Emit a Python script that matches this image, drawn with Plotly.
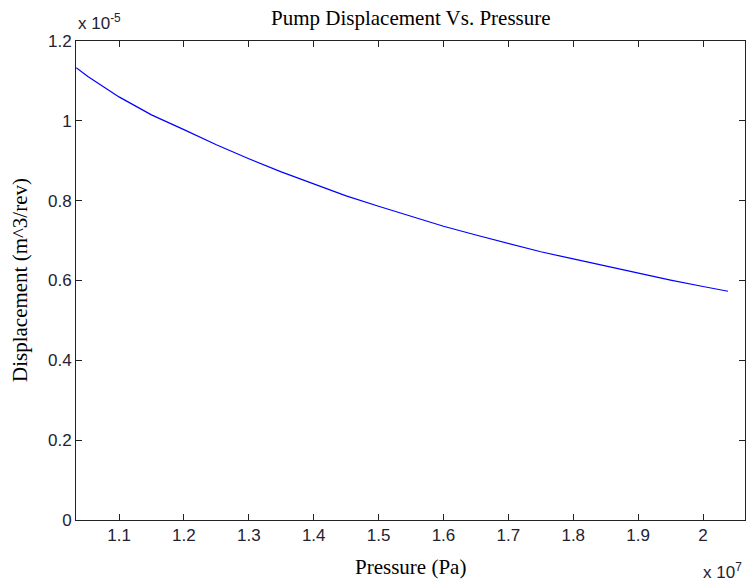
import plotly.graph_objects as go

# Data (Pressure in Pa, displacement in m^3/rev)
pressure_e7 = [1.034, 1.052, 1.1, 1.15, 1.2, 1.25, 1.3, 1.35, 1.4, 1.45, 1.5, 1.55,
               1.6, 1.65, 1.7, 1.75, 1.8, 1.85, 1.9, 1.95, 2.0, 2.0385]
displacement_e5 = [1.133, 1.111, 1.060, 1.015, 0.978, 0.940, 0.905, 0.872, 0.842, 0.812,
                   0.786, 0.760, 0.736, 0.714, 0.693, 0.672, 0.654, 0.636, 0.619, 0.601,
                   0.585, 0.573]
pressure = [p * 1e7 for p in pressure_e7]
displacement = [d * 1e-5 for d in displacement_e5]

x_tick_vals = [1.1e7, 1.2e7, 1.3e7, 1.4e7, 1.5e7, 1.6e7, 1.7e7, 1.8e7, 1.9e7, 2.0e7]
x_tick_text = ["1.1", "1.2", "1.3", "1.4", "1.5", "1.6", "1.7", "1.8", "1.9", "2"]
y_tick_vals = [0, 0.2e-5, 0.4e-5, 0.6e-5, 0.8e-5, 1.0e-5, 1.2e-5]
y_tick_text = ["0", "0.2", "0.4", "0.6", "0.8", "1", "1.2"]

fig = go.Figure()
fig.add_trace(go.Scatter(x=pressure, y=displacement, mode="lines",
                         line=dict(color="#0000ff", width=1.2), showlegend=False))

tickfont = dict(family="Liberation Sans, Arial, sans-serif", size=17, color="#222233")
labfont = dict(family="Liberation Serif, Times New Roman, serif", size=21, color="black")

fig.update_layout(
    width=748, height=582,
    margin=dict(l=76, r=3, t=41, b=62),
    paper_bgcolor="white", plot_bgcolor="white",
    xaxis=dict(range=[1.0337e7, 2.0647e7], tickvals=x_tick_vals, ticktext=x_tick_text,
               ticks="inside", ticklen=6, tickcolor="#222", showline=True, linecolor="#222",
               linewidth=1, mirror="ticks", showgrid=False, zeroline=False, tickfont=tickfont),
    yaxis=dict(range=[0, 1.2e-5], tickvals=y_tick_vals, ticktext=y_tick_text,
               ticks="inside", ticklen=6, tickcolor="#222", showline=True, linecolor="#222",
               linewidth=1, mirror="ticks", showgrid=False, zeroline=False, tickfont=tickfont),
)

# Title and axis labels
fig.add_annotation(text="Pump Displacement Vs. Pressure", xref="paper", yref="paper",
                   x=0.5, y=1.0, xanchor="center", yanchor="middle", yshift=23,
                   showarrow=False, font=labfont)
fig.add_annotation(text="Pressure (Pa)", xref="paper", yref="paper",
                   x=0.5, y=0.0, xanchor="center", yanchor="middle", yshift=-47,
                   showarrow=False, font=labfont)
fig.add_annotation(text="Displacement (m^3/rev)", xref="paper", yref="paper",
                   x=0.0, y=0.501, xanchor="center", yanchor="middle", xshift=-56,
                   textangle=-90, showarrow=False, font=labfont)

# Exponent labels
fig.add_annotation(text="x 10<sup>-5</sup>", xref="paper", yref="paper", x=0.0, y=1.0,
                   xanchor="left", yanchor="bottom", yshift=6, showarrow=False,
                   font=tickfont)
fig.add_annotation(text="x 10<sup>7</sup>", xref="paper", yref="paper", x=1.0, y=0.0,
                   xanchor="right", yanchor="top", yshift=-38, xshift=-1, showarrow=False,
                   font=tickfont)

fig.write_html("out.html", config={"displayModeBar": False},
               post_script="document.body.style.margin='0';")
